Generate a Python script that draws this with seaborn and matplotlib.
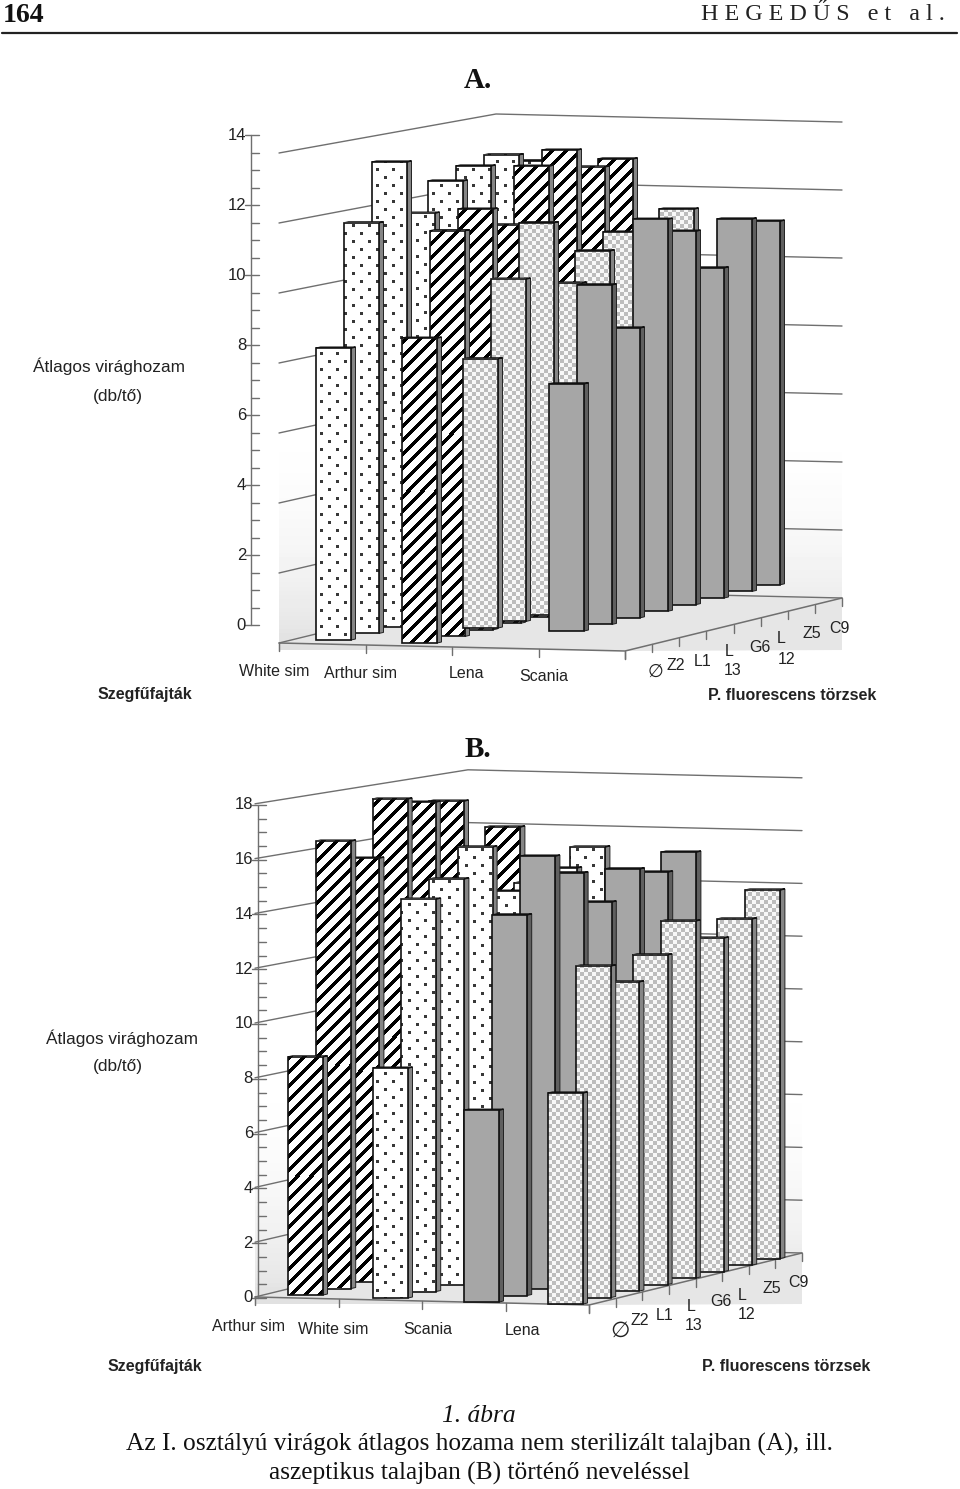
import numpy as np
import matplotlib.pyplot as plt
import seaborn as sns
from matplotlib.patches import Polygon, Rectangle

# values, front row to back row (Ø, Z2, L1, L13, G6, L12, Z5, C9)
white_sim_a = [8.34, 11.73, 13.28, 11.63, 12.36, 12.6, 12.73, 12.37]
arthur_sim_a = [8.71, 11.59, 12.02, 11.38, 12.87, 13.14, 12.47, 12.51]
lena_a = [7.69, 9.78, 11.2, 9.29, 10.02, 10.37, 9.0, 10.65]
scania_a = [7.06, 9.7, 8.28, 11.2, 10.67, 9.43, 10.64, 10.39]

arthur_sim_b = [8.69, 16.33, 15.47, 17.39, 17.04, 16.84, 13.0, 15.42]
white_sim_b = [8.39, 14.32, 14.82, 15.75, 13.9, 13.96, 14.27, 14.8]
scania_b = [7.0, 13.89, 15.8, 14.95, 13.65, 14.62, 14.27, 14.76]
lena_b = [7.7, 12.1, 11.28, 12.03, 13.03, 12.17, 12.63, 13.45]

ticks_a = [0, 2, 4, 6, 8, 10, 12, 14]
ticks_b = [0, 2, 4, 6, 8, 10, 12, 14, 16, 18]

sns.set_theme(style='white')
plt.rcParams['font.family'] = ['Liberation Sans', 'DejaVu Sans']

LINE = '#6f6f6f'
SERIF = 'Liberation Serif'


def texture(kind, x0, y0, w, h):
    # pixel pattern of a bar face, anchored on the page so neighbours look alike
    xx, yy = np.meshgrid(np.arange(int(w)) + int(x0), np.arange(int(h)) + int(y0))
    if kind == 'dots':
        a = (xx % 16 < 3) & (yy % 16 < 3)
        b = ((xx + 8) % 16 < 3) & ((yy + 8) % 16 < 3)
        return np.where(a | b, 0.22, 1.0)
    if kind == 'stripes':
        return np.where((xx + yy) % 14 < 5, 0.0, 1.0)
    return np.where((xx // 4 + yy // 4) % 2 == 0, 0.74, 0.97)


def draw_bar(ax, x, base, value, unit, kind, z):
    w, sx, sy = 35, 4.5, 1.0
    top = base - value * unit
    side = '#5f5f5f' if kind == 'solid' else '#858585'
    ax.add_patch(Polygon([(x + w, top), (x + w + sx, top - sy), (x + w + sx, base - sy), (x + w, base)],
                         fc=side, ec='#222222', lw=0.7, zorder=z))
    ax.add_patch(Polygon([(x, top), (x + w, top), (x + w + sx, top - sy), (x + sx, top - sy)],
                         fc='#555555', ec='#111111', lw=0.9, zorder=z))
    if kind == 'solid':
        ax.add_patch(Rectangle((x, top), w, base - top, fc='#a6a6a6', ec='none', zorder=z))
    else:
        ax.imshow(texture(kind, x, top, w, base - top), cmap='gray', vmin=0, vmax=1, aspect='auto',
                  extent=(x, x + w, base, top), interpolation='nearest', zorder=z)
    ax.add_patch(Rectangle((x, top), w, base - top, fc='none', ec='#111111', lw=1.2, zorder=z))


def draw_walls(ax, fl, fr, br, bl, unit_f, unit_b, ticks, grad_top, axis_x, axis_base):
    grad = (1 - 0.12 * np.linspace(0, 1, 64) ** 2.5).reshape(-1, 1)
    grad_bottom = max(fl[1], fr[1]) - 1
    ax.imshow(grad, cmap='gray', vmin=0, vmax=1, aspect='auto',
              extent=(fl[0], br[0], grad_bottom, grad_top), zorder=1)
    ax.add_patch(Polygon([fl, fr, (br[0], fr[1] - 1), br, bl], fc='#e6e6e6', ec='none', zorder=1))
    ax.plot([fl[0], fr[0], br[0]], [fl[1], fr[1], br[1]], color=LINE, lw=1.1, zorder=3)
    ax.plot([fl[0], fl[0]], [fl[1], fl[1] + 8], color=LINE, lw=0.8, zorder=3)
    for v in ticks:
        ax.plot([fl[0], bl[0], br[0]], [fl[1] - v * unit_f, bl[1] - v * unit_b, br[1] - v * unit_b],
                color=LINE, lw=1.0, zorder=2)
    # value axis with minor ticks
    vmax = ticks[-1]
    ax.plot([axis_x, axis_x], [axis_base - vmax * unit_f, axis_base], color=LINE, lw=1, zorder=3)
    for m in np.arange(0, vmax + 0.1, 0.5):
        y = axis_base - m * unit_f
        major = m in ticks
        ax.plot([axis_x - 6 if major else axis_x, axis_x + 8], [y, y], color=LINE,
                lw=1, zorder=3)
    for v in ticks:
        ax.text(axis_x - 5, axis_base - v * unit_f, str(v), ha='right', va='center', fontsize=12, color='#222222')
    # floor ticks
    for i in range(5):
        f = i / 4
        x, y = fl[0] + (fr[0] - fl[0]) * f, fl[1] + (fr[1] - fl[1]) * f
        ax.plot([x, x], [y, y + 8], color=LINE, lw=1, zorder=3)
    for i in range(9):
        f = i / 8
        x, y = fr[0] + (br[0] - fr[0]) * f, fr[1] + (br[1] - fr[1]) * f
        ax.plot([x, x], [y, y + 8], color=LINE, lw=1, zorder=3)


def draw_series(ax, series, kinds, front_x, front_y, unit, dx, dy):
    z = 5
    for values, kind, x0, y0 in zip(series, kinds, front_x, front_y):
        for row in range(len(values) - 1, -1, -1):
            draw_bar(ax, x0 + row * dx, y0 + row * dy, values[row], unit, kind, z)
            z += 1


def label(ax, x, y, s, size=11.5, **kw):
    ax.text(x, y + 1.5, s, ha='center', va='center', fontsize=size, color=kw.pop('color', '#222222'), **kw)


fig = plt.figure(figsize=(9.6, 14.89), dpi=100)
ax = fig.add_axes([0, 0, 1, 1])

# panel A
draw_walls(ax, (279, 643), (625, 651), (842, 598), (496, 590), 35.0, 34.0, ticks_a, 380, 251, 625)
draw_series(ax, [white_sim_a, arthur_sim_a, lena_a, scania_a], ['dots', 'stripes', 'check', 'solid'],
            [316, 402, 463, 549], [640, 643, 628, 631], 35.0, 28, -6.6)

# panel B
draw_walls(ax, (255, 1297), (589, 1305), (802, 1253), (468, 1245), 27.4, 26.4, ticks_b, 1030, 258, 1298)
draw_series(ax, [arthur_sim_b, white_sim_b, scania_b, lena_b], ['stripes', 'dots', 'solid', 'check'],
            [288, 373, 464, 548], [1295, 1298, 1302, 1304], 27.4, 28.2, -6.5)

# page head
ax.plot([2, 957], [32.5, 32.5], color='#222222', lw=1.6)
ax.text(3, 15, '164', fontsize=20, fontweight='bold', family=SERIF, va='center', color='#111111')
ax.text(945, 15, 'H E G E D Ű S   e t   a l .', fontsize=17.4, family=SERIF, ha='right', va='center', color='#222222')
label(ax, 478, 79, 'A.', 21, family=SERIF, fontweight='bold', color='#111111')
label(ax, 478, 748, 'B.', 21, family=SERIF, fontweight='bold', color='#111111')

# texts panel A
label(ax, 109, 365, 'Átlagos virághozam', 12.4)
label(ax, 118, 395, '(db/tő)', 12.4)
label(ax, 145, 693, 'Szegfűfajták', fontweight='bold')
label(ax, 792, 694, 'P. fluorescens törzsek', fontweight='bold')
for x, y, s in [(274, 670, 'White sim'), (360, 672, 'Arthur sim'), (466, 672, 'Lena'), (544, 675, 'Scania'),
                (676, 664, 'Z2'), (703, 660, 'L1'), (729, 650, 'L'), (733, 669, '13'), (760, 646, 'G6'),
                (781, 637, 'L'), (787, 658, '12'), (812, 632, 'Z5'), (839, 627, 'C9')]:
    label(ax, x, y, s)
label(ax, 655, 670, '∅', 13, family='DejaVu Sans')

# texts panel B
label(ax, 122, 1037, 'Átlagos virághozam', 12.4)
label(ax, 118, 1065, '(db/tő)', 12.4)
label(ax, 155, 1365, 'Szegfűfajták', fontweight='bold')
label(ax, 786, 1365, 'P. fluorescens törzsek', fontweight='bold')
for x, y, s in [(248, 1325, 'Arthur sim'), (333, 1328, 'White sim'), (428, 1328, 'Scania'), (523, 1329, 'Lena'),
                (640, 1319, 'Z2'), (665, 1314, 'L1'), (691, 1305, 'L'), (694, 1324, '13'), (721, 1300, 'G6'),
                (742, 1294, 'L'), (747, 1313, '12'), (772, 1287, 'Z5'), (798, 1281, 'C9')]:
    label(ax, x, y, s)
label(ax, 620, 1329, '∅', 16, family='DejaVu Sans')

# caption
label(ax, 479, 1414, '1. ábra', 18.4, family=SERIF, style='italic', color='#111111')
label(ax, 479, 1443, 'Az I. osztályú virágok átlagos hozama nem sterilizált talajban (A), ill.', 18.3, family=SERIF, color='#111111')
label(ax, 479, 1472, 'aszeptikus talajban (B) történő neveléssel', 18.3, family=SERIF, color='#111111')

ax.set_xlim(0, 960)
ax.set_ylim(1489, 0)
ax.axis('off')
sns.despine(ax=ax, left=True, bottom=True)
fig.savefig('out.png', dpi=100, facecolor='white')
